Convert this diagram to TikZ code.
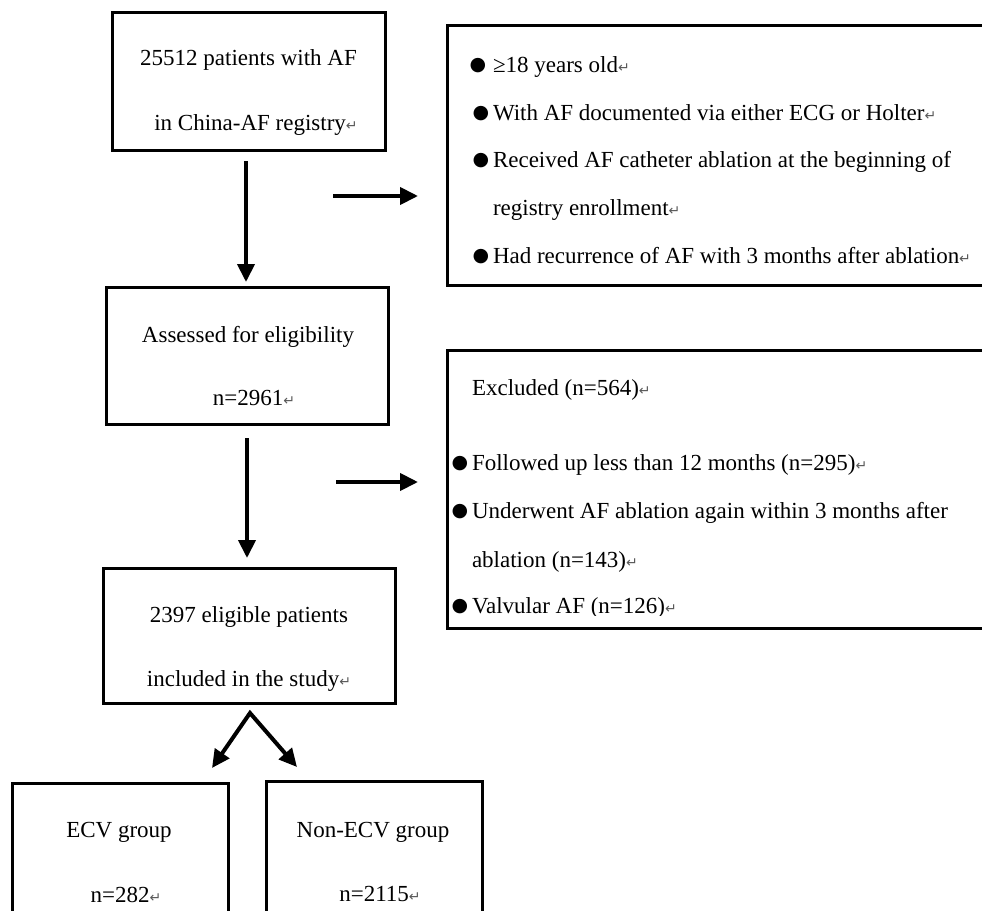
\documentclass[tikz,border=0pt]{standalone}
\usepackage{fontspec}
\setmainfont{Liberation Serif}
\newfontfamily\dejavu{DejaVu Sans}
\usetikzlibrary{arrows.meta,calc}
\newcommand\retmark{{\dejavu\fontsize{14}{14}\selectfont\textcolor{black!65}{↵}}}
\newcommand\bul{\raisebox{1.5pt}{\dejavu\fontsize{19}{19}\selectfont ●}}
\begin{document}
\begin{tikzpicture}[x=1pt,y=-1pt,
  box/.style={draw, line width=3pt, rectangle, inner sep=0pt, outer sep=0pt},
  txt/.style={inner sep=0pt, outer sep=0pt, font=\fontsize{23}{27}\selectfont, anchor=base},
  txl/.style={txt, anchor=base west},
  bl/.style={inner sep=0pt, outer sep=0pt, anchor=base},
  arr/.style={line width=4pt, -{Triangle[length=18pt,width=17pt]}},
  arrtwo/.style={line width=4pt, line join=miter, {Triangle[length=18pt,width=17pt]}-{Triangle[length=18pt,width=17pt]}}]
\clip (0,0) rectangle (982,910);
\fill[white] (0,0) rectangle (982,910);
% boxes
\node[box, minimum width=273pt, minimum height=138pt] (b1) at (248.5,81) {};
\node[box, minimum width=563pt, minimum height=260pt] (b2) at (728.5,155) {};
\node[box, minimum width=282pt, minimum height=137pt] (b3) at (247,355.5) {};
\node[box, minimum width=563pt, minimum height=278pt] (b4) at (728.5,489) {};
\node[box, minimum width=292pt, minimum height=135pt] (b5) at (249,635.5) {};
\node[box, minimum width=216pt, minimum height=157pt] (b6) at (120,861.5) {};
\node[box, minimum width=216pt, minimum height=159pt] (b7) at (374,860.5) {};
% box 1 text
\node[txt] (t1a) at (248.5,65) {25512 patients with AF};
\node[txt] (t1b) at (256,130) {in China-AF registry\retmark};
% box 2 text
\node[bl] (c1) at (478,72) {\bul};
\node[txl] (t2a) at (493,72) {≥18 years old\retmark};
\node[bl] (c2) at (481,120) {\bul};
\node[txl] (t2b) at (493,120) {With AF documented via either ECG or Holter\retmark};
\node[bl] (c3) at (481,167) {\bul};
\node[txl] (t2c) at (493,167) {Received AF catheter ablation at the beginning of};
\node[txl] (t2d) at (493,215) {registry enrollment\retmark};
\node[bl] (c4) at (481,263) {\bul};
\node[txl] (t2e) at (493,263) {Had recurrence of AF with 3 months after ablation\retmark};
% box 3 text
\node[txt] (t3a) at (248,342) {Assessed for eligibility};
\node[txt] (t3b) at (254,405) {n=2961\retmark};
% box 4 text
\node[txl] (t4a) at (472,395) {Excluded (n=564)\retmark};
\node[bl] (d1) at (460,470) {\bul};
\node[txl] (t4b) at (472,470) {Followed up less than 12 months (n=295)\retmark};
\node[bl] (d2) at (460,518) {\bul};
\node[txl] (t4c) at (472,518) {Underwent AF ablation again within 3 months after};
\node[txl] (t4d) at (472,567) {ablation (n=143)\retmark};
\begin{scope}
\clip (440,590) rectangle (982,615.5);
\node[bl] (d3) at (460,613) {\bul};
\node[txl] (t4e) at (472,613) {Valvular AF (n=126)\retmark};
\end{scope}
% box 5 text
\node[txt] (t5a) at (249,622) {2397 eligible patients};
\node[txt] (t5b) at (249,686) {included in the study\retmark};
% box 6/7 text
\node[txt] (t6a) at (119,837) {ECV group};
\node[txt] (t6b) at (126,902) {n=282\retmark};
\node[txt] (t7a) at (373,837) {Non-ECV group};
\node[txt] (t7b) at (380,901) {n=2115\retmark};
% connectors
\coordinate (h1s) at (333,196);
\coordinate (h1e) at (418,196);
\coordinate (h2s) at (336,482);
\coordinate (h2e) at (418,482);
\draw[arr] ($(b1.south)+(-2.5,11)$) -- ($(b3.north)+(-1,-5)$);
\draw[arr] (h1s) -- (h1e);
\draw[arr] ($(b3.south)+(0,14)$) -- ($(b5.north)+(-2,-10)$);
\draw[arr] (h2s) -- (h2e);
\coordinate (apex) at ($(b5.south)+(1,10)$);
\coordinate (sl) at (212,768);
\coordinate (sr) at (297,767);
\draw[arrtwo] (sl) -- (apex) -- (sr);
\end{tikzpicture}
\end{document}
